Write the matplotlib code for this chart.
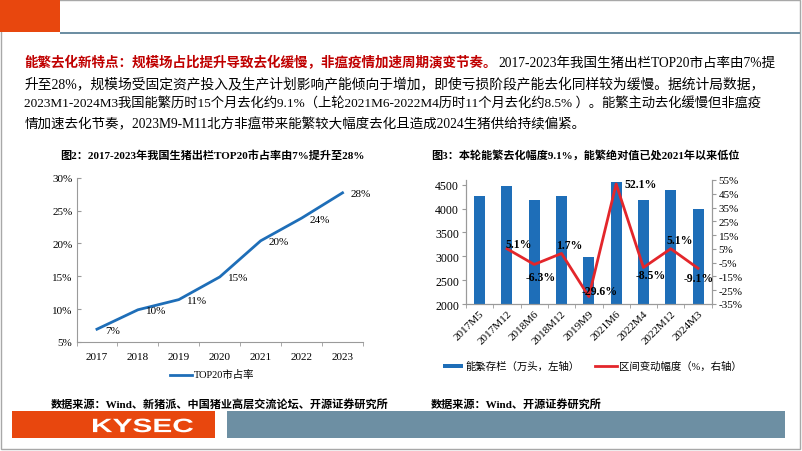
import numpy as np
import matplotlib
matplotlib.use('Agg')
import matplotlib.pyplot as plt
from matplotlib.patches import Rectangle, PathPatch
from matplotlib.lines import Line2D
from matplotlib.textpath import TextPath
from matplotlib.font_manager import FontProperties
from matplotlib.transforms import Affine2D

W, H = 802, 452

# chart 2 data
years = ['2017', '2018', '2019', '2020', '2021', '2022', '2023']
top20_share = [6.95, 9.9, 11.45, 14.9, 20.4, 23.85, 27.7]
top20_labels = ['7%', '10%', '11%', '15%', '20%', '24%', '28%']

# chart 3 data
periods = ['2017M5', '2017M12', '2018M6', '2018M12', '2019M9',
           '2021M6', '2022M4', '2022M12', '2024M3']
sow_stock = [4255, 4475, 4190, 4255, 2995, 4560, 4175, 4390, 3995]
sow_change = [np.nan, 5.1, -6.3, 1.7, -29.6, 52.1, -8.5, 5.1, -9.1]
change_labels = ['', '5.1%', '-6.3%', '1.7%', '-29.6%', '52.1%', '-8.5%', '5.1%', '-9.1%']
# label offsets in pixels (right, down) from each point
label_offsets = [(0, 0), (12, -5), (6, 13), (8, -8), (11, -6),
                 (25, 0), (7, 8), (9, -9), (1, 10)]

para_red = '能繁去化新特点：规模场占比提升导致去化缓慢，非瘟疫情加速周期演变节奏。'
para_lines = [
    '2017-2023年我国生猪出栏TOP20市占率由7%提',
    '升至28%，规模场受固定资产投入及生产计划影响产能倾向于增加，即使亏损阶段产能去化同样较为缓慢。据统计局数据，',
    '2023M1-2024M3我国能繁历时15个月去化约9.1%（上轮2021M6-2022M4历时11个月去化约8.5% ）。能繁主动去化缓慢但非瘟疫',
    '情加速去化节奏，2023M9-M11北方非瘟带来能繁较大幅度去化且造成2024生猪供给持续偏紧。',
]
title2 = '图2：2017-2023年我国生猪出栏TOP20市占率由7%提升至28%'
title3 = '图3：本轮能繁去化幅度9.1%，能繁绝对值已处2021年以来低位'
source2 = '数据来源：Wind、新猪派、中国猪业高层交流论坛、开源证券研究所'
source3 = '数据来源：Wind、开源证券研究所'

plt.rcParams['font.family'] = ['Liberation Serif', 'Noto Sans CJK SC']
plt.rcParams['axes.unicode_minus'] = False

ORANGE = '#E8470E'
SLATE = '#6D8FA3'
BLUE = '#1E6EB8'
RED = '#E3262B'
AXGRAY = '#9A9A9A'

fig = plt.figure(figsize=(W / 100, H / 100), dpi=100, facecolor='white')
renderer = fig.canvas.get_renderer()

# page layer in pixel coordinates
bg = fig.add_axes([0, 0, 1, 1])
bg.set_xlim(0, W)
bg.set_ylim(H, 0)
bg.axis('off')

bg.add_patch(Rectangle((0.5, 0.5), 799.5, 449.5, fill=False, ec='#A8A8A8', lw=1))
bg.add_patch(Rectangle((0, 0), 60, 33, fc=ORANGE, ec='none'))
bg.add_patch(Rectangle((60, 32.5), 740, 2, fc=SLATE, ec='none'))

# paragraph
x0 = 24.5
base = 10
t_red = bg.text(x0, 63.5, para_red, fontsize=base, color='#C00000', fontweight='bold',
                va='center', ha='left')
t_blk = bg.text(x0, 63.5, para_lines[0], fontsize=base, va='center', ha='left')
w1 = t_red.get_window_extent(renderer).width
w2 = t_blk.get_window_extent(renderer).width
k = (777 - x0) / (w1 + w2)
t_red.set_fontsize(base * k)
t_blk.set_fontsize(base * k)
t_blk.set_x(x0 + w1 * k)

targets = [None, 761, 762, None]
ys = [63.5, 84, 104.5, 125]
for i in range(1, 4):
    t = bg.text(x0, ys[i], para_lines[i], fontsize=base * k, va='center', ha='left')
    if targets[i]:
        w = t.get_window_extent(renderer).width
        t.set_fontsize(base * k * (targets[i] - x0) / w)

# chart titles and sources
bg.text(60, 155.5, title2, fontsize=8, fontweight='bold', va='center', ha='left')
bg.text(431.5, 155.5, title3, fontsize=8, fontweight='bold', va='center', ha='left')
bg.text(51, 404.5, source2, fontsize=8, fontweight='bold', va='center', ha='left')
bg.text(431, 404.5, source3, fontsize=8, fontweight='bold', va='center', ha='left')

# legends
bg.add_line(Line2D([170, 191.5], [375.5, 375.5], color=BLUE, lw=2))
bg.text(193.5, 375.5, 'TOP20市占率', fontsize=7.5, va='center', ha='left')
bg.add_patch(Rectangle((443, 364.5), 20, 4.5, fc=BLUE, ec='none'))
bg.text(465.5, 366.5, '能繁存栏（万头，左轴）', fontsize=7.5, va='center', ha='left')
bg.add_line(Line2D([595, 617], [366.5, 366.5], color=RED, lw=2))
bg.text(619.5, 366.5, '区间变动幅度（%，右轴）', fontsize=7.5, va='center', ha='left')

# footer
bg.add_patch(Rectangle((11.7, 412.3), 203.3, 27, fc=ORANGE, ec='none'))
bg.add_patch(Rectangle((227, 412.3), 558, 27, fc=SLATE, ec='none'))
tp = TextPath((0, 0), 'KYSEC', size=10, prop=FontProperties(family='Liberation Sans', weight='bold'))
ext = tp.get_extents()
sx = 100 / ext.width
sy = 13.7 / ext.height
tr = Affine2D().translate(-ext.x0, -ext.y0).scale(sx, -sy).translate(93, 433.3)
bg.add_patch(PathPatch(tr.transform_path(tp), fc='white', ec='none'))


def px_axes(xa, ya, xb, yb):
    return fig.add_axes([xa / W, 1 - yb / H, (xb - xa) / W, (yb - ya) / H])


# ---- chart 2: line ----
ax = px_axes(76.5, 178.7, 363, 343)
xs = np.arange(len(years))
ax.plot(xs, top20_share, color=BLUE, lw=2)
for xi, yi, lab in zip(xs, top20_share, top20_labels):
    ax.annotate(lab, (xi, yi), xytext=(8, -1), textcoords='offset pixels',
                ha='left', va='center', fontsize=8)
ax.set_xlim(-0.5, len(years) - 0.5)
ax.set_ylim(5, 30)
ax.set_yticks(np.arange(5, 31, 5))
ax.set_yticklabels([f'{v}%' for v in range(5, 31, 5)])
ax.set_xticks(xs)
ax.set_xticklabels(years)
ax.set_xticks(np.arange(-0.5, len(years), 1), minor=True)
ax.tick_params(axis='x', which='major', length=0, labelsize=8, pad=7)
ax.tick_params(axis='x', which='minor', length=3, direction='out', color=AXGRAY)
ax.tick_params(axis='y', length=3, direction='in', color=AXGRAY, labelsize=8, pad=3)
for s in ['top', 'right']:
    ax.spines[s].set_visible(False)
for s in ['left', 'bottom']:
    ax.spines[s].set_color(AXGRAY)
ax.patch.set_alpha(0)

# ---- chart 3: bars + line ----
axb = px_axes(466, 181, 711.7, 305)
xp = np.arange(len(periods))
axb.bar(xp, sow_stock, width=0.4, color=BLUE, zorder=2)
axb.set_xlim(-0.5, len(periods) - 0.5)
axb.set_ylim(2000, 4600)
axb.set_yticks(np.arange(2000, 4501, 500))
axb.set_xticks(xp)
axb.set_xticklabels(periods, rotation=45, ha='right', rotation_mode='anchor')
axb.set_xticks(np.arange(-0.5, len(periods), 1), minor=True)
axb.tick_params(axis='x', which='major', length=0, labelsize=8, pad=3)
axb.tick_params(axis='x', which='minor', length=3, direction='out', color=AXGRAY)
axb.tick_params(axis='y', length=3, direction='out', color=AXGRAY, labelsize=8.5, pad=2)
axb.spines['top'].set_visible(False)
for s in ['left', 'bottom', 'right']:
    axb.spines[s].set_color(AXGRAY)
axb.patch.set_alpha(0)

axr = axb.twinx()
axr.plot(xp, sow_change, color=RED, lw=2, zorder=3)
axr.set_ylim(-35, 55)
axr.set_yticks(np.arange(-35, 56, 10))
axr.set_yticklabels([f'{v}%' for v in range(-35, 56, 10)])
axr.tick_params(axis='y', length=3, direction='out', color=AXGRAY, labelsize=8, pad=2)
axr.spines['top'].set_visible(False)
for s in ['left', 'bottom', 'right']:
    axr.spines[s].set_color(AXGRAY)
for xi, yi, lab, (dx, dy) in zip(xp, sow_change, change_labels, label_offsets):
    if lab:
        axr.annotate(lab, (xi, yi), xytext=(dx, -dy), textcoords='offset pixels',
                     ha='center', va='center', fontsize=8.5, fontweight='bold', zorder=4)

fig.savefig('out.png', dpi=100, facecolor='white')
